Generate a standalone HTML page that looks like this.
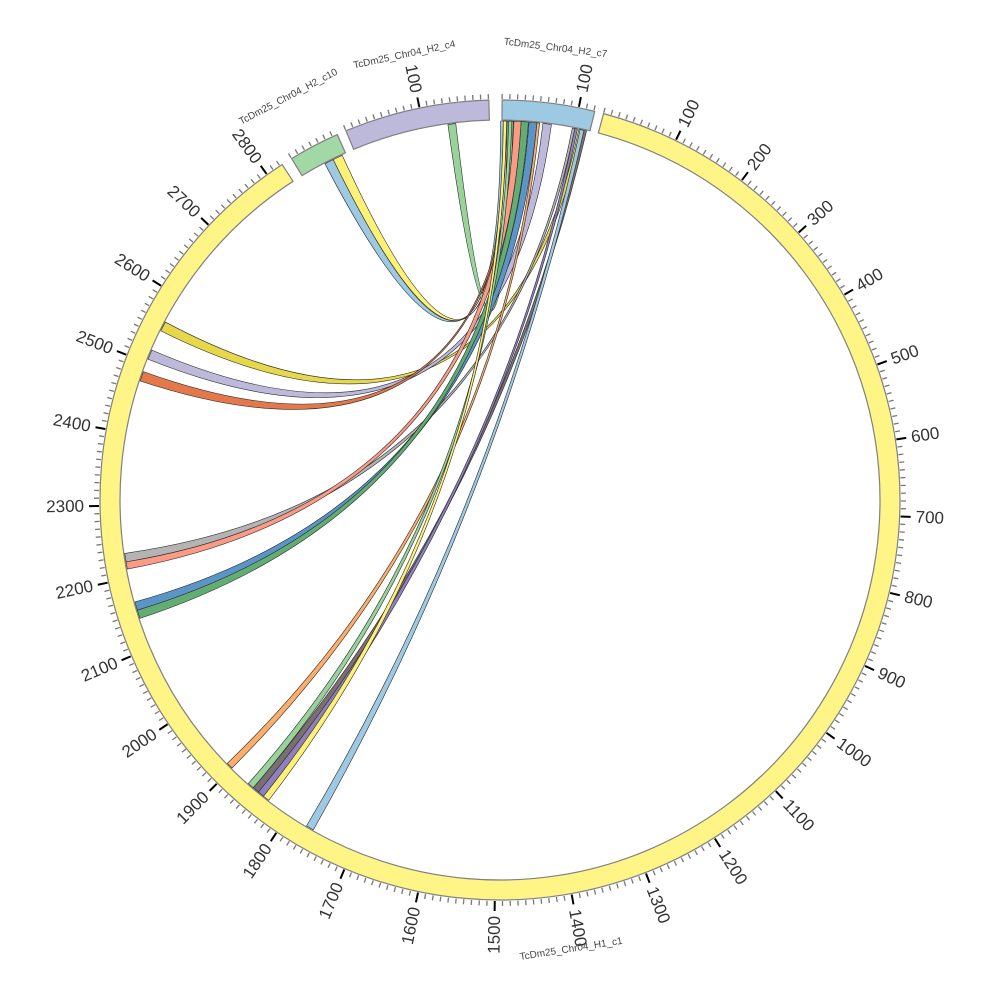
<!DOCTYPE html>
<html><head><meta charset="utf-8">
<style>html,body{margin:0;padding:0;background:#fff;}svg{display:block;}</style>
</head><body>
<svg id="s" xmlns="http://www.w3.org/2000/svg" width="1000" height="1000" viewBox="0 0 1000 1000"></svg>
<script>
var cx=500,cy=500,R0=380,R1=400,RC=379,K=0.1105;
function P(r,t){var a=t*Math.PI/180;return [cx+r*Math.sin(a),cy-r*Math.cos(a)];}
function f(p){return p[0].toFixed(2)+","+p[1].toFixed(2);}
var out=[];
var segs=[
 {name:"TcDm25_Chr04_H1_c1",s:15.0,e:327.0,col:"#fff587"},
 {name:"TcDm25_Chr04_H2_c10",s:-31.4,e:-24.0,col:"#a1d8a3"},
 {name:"TcDm25_Chr04_H2_c4",s:-22.65,e:-1.6,col:"#bdb9db"},
 {name:"TcDm25_Chr04_H2_c7",s:0.3,e:13.7,col:"#9dcae2"}
];
segs.forEach(function(g){
 var la=(g.e-g.s)>180?1:0;
 var d="M"+f(P(R1,g.s))+"A"+R1+","+R1+" 0 "+la+" 1 "+f(P(R1,g.e))+"L"+f(P(R0,g.e))+"A"+R0+","+R0+" 0 "+la+" 0 "+f(P(R0,g.s))+"Z";
 out.push('<path d="'+d+'" fill="'+g.col+'" stroke="#808080" stroke-width="1.2"/>');
 var len=(g.e-g.s)/K;
 for(var u=0;u<=len;u+=10){
  var t=g.s+u*K; var maj=(u%100===0)&&u>0;
  var p1=P(R1+1,t),p2=P(R1+(maj?11:6),t);
  out.push('<line x1="'+p1[0].toFixed(2)+'" y1="'+p1[1].toFixed(2)+'" x2="'+p2[0].toFixed(2)+'" y2="'+p2[1].toFixed(2)+'" stroke="'+(maj?"#000":"#777")+'" stroke-width="'+(maj?2:1.3)+'"/>');
  if(maj){
   var tn=((t%360)+360)%360; var pp=P(R1+16,t); var rot,anc;
   if(tn<180){rot=tn-90;anc="start";}else{rot=tn+90;anc="end";}
   out.push('<text x="'+pp[0].toFixed(2)+'" y="'+pp[1].toFixed(2)+'" transform="rotate('+rot.toFixed(2)+' '+pp[0].toFixed(2)+' '+pp[1].toFixed(2)+')" text-anchor="'+anc+'" dominant-baseline="central" font-family="Liberation Sans, sans-serif" font-size="17" fill="#333">'+u+'</text>');
  }
 }
 var m=(g.s+g.e)/2; var mn=((m%360)+360)%360; var lp=P(455,m);
 var lr=(mn>90&&mn<270)?mn-180:mn;
 out.push('<text x="'+lp[0].toFixed(2)+'" y="'+lp[1].toFixed(2)+'" transform="rotate('+lr.toFixed(2)+' '+lp[0].toFixed(2)+' '+lp[1].toFixed(2)+')" text-anchor="middle" dominant-baseline="central" font-family="Liberation Sans, sans-serif" font-size="10" fill="#444">'+g.name+'</text>');
});
function rib(a0,a1,b0,b1,col){
 var d="M"+f(P(RC,a0))+"A"+RC+","+RC+" 0 0 1 "+f(P(RC,a1))+"Q"+cx+","+cy+" "+f(P(RC,b0))+"A"+RC+","+RC+" 0 0 1 "+f(P(RC,b1))+"Q"+cx+","+cy+" "+f(P(RC,a0))+"Z";
 out.push('<path d="'+d+'" fill="'+col+'" stroke="#2a2a2a" stroke-width="0.6"/>');
}
var ch=[
 [-27.5,-26.1,0.1,0.5,"#9dcae2"],
 [-26.1,-24.6,0.5,1.0,"#fff176"],
 [-7.9,-6.7,1.1,2.0,"#98d39a"],
 [296.5,298.0,12.0,12.6,"#e6d84a"],
 [291.8,293.3,6.5,7.8,"#bdb9db"],
 [288.3,289.8,2.1,2.5,"#e4784a"],
 [260.6,261.9,11.0,11.4,"#b4b4b4"],
 [259.5,260.6,2.1,3.2,"#fb9a85"],
 [253.1,254.4,4.4,5.6,"#5b95c8"],
 [251.8,253.1,3.2,4.3,"#62ad72"],
 [225.0,226.0,5.6,6.0,"#fdae6b"],
 [220.6,221.6,1.3,1.8,"#98d39a"],
 [219.6,220.6,12.6,13.2,"#7a6f73"],
 [218.6,219.6,11.4,11.8,"#8f80c0"],
 [217.6,218.6,0.5,1.0,"#fff176"],
 [209.5,210.7,12.2,12.8,"#9dcae2"]
];
ch.forEach(function(c){rib(c[0],c[1],c[2],c[3],c[4]);});
document.getElementById("s").innerHTML=out.join("");
</script>
</body></html>
